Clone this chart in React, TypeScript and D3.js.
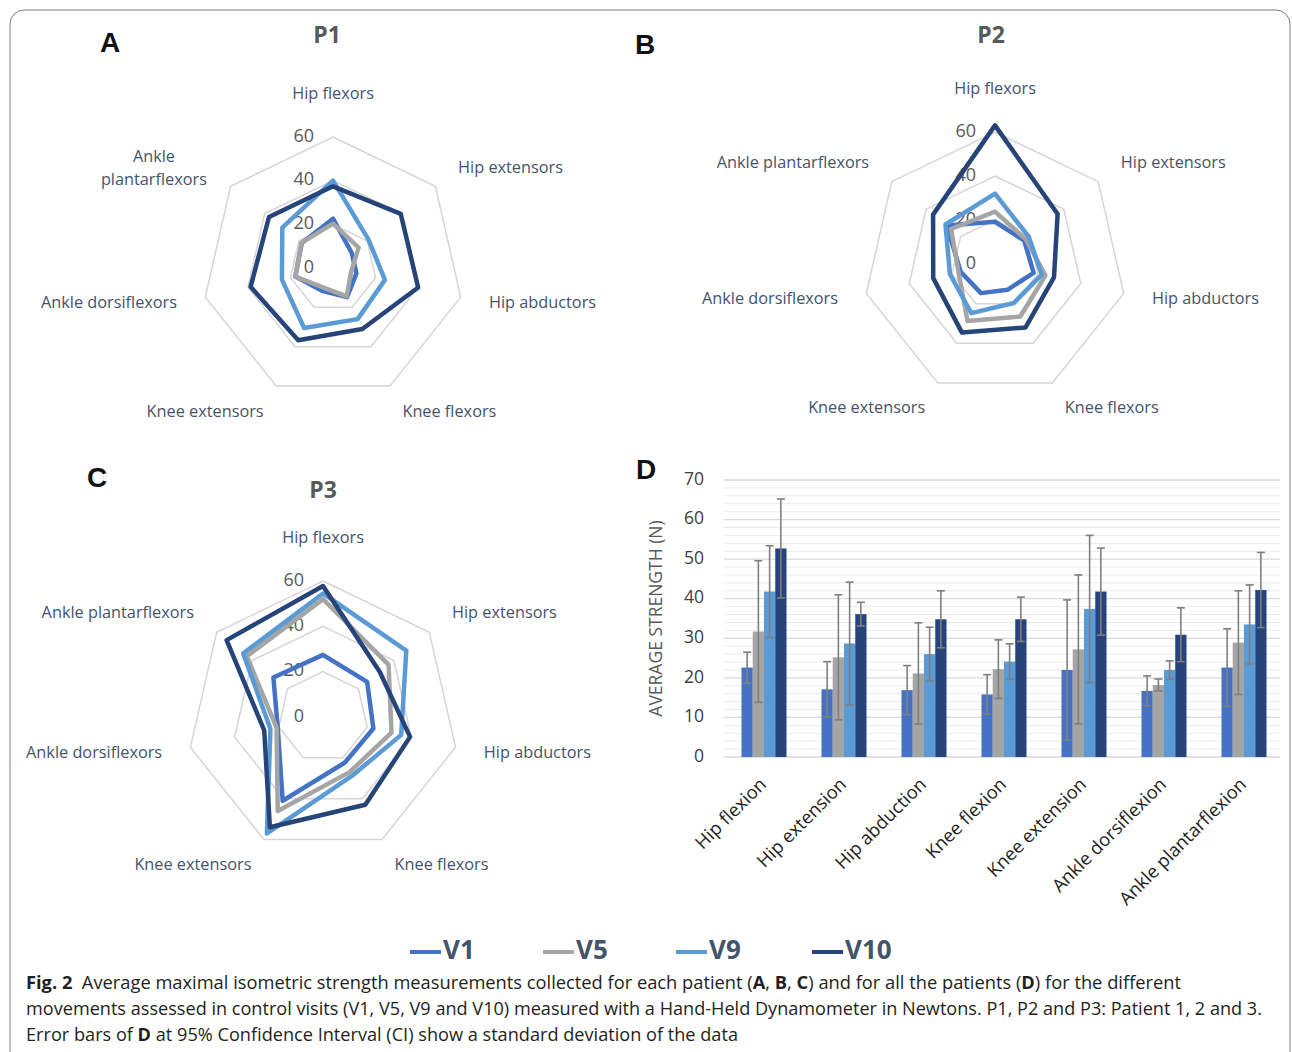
import React from "react";
import * as d3 from "d3";

const axes = ["Hip flexors", "Hip extensors", "Hip abductors", "Knee flexors", "Knee extensors", "Ankle dorsiflexors", "Ankle plantarflexors"];
const seriesNames = ["V1", "V5", "V9", "V10"];
const seriesColors = ["#4472C4", "#A5A5A5", "#5B9BD5", "#264478"];
const radarTicks = [0, 20, 40, 60];

// P1 values per series (order of axes)
const p1V1 = [22.6, 11, 11, 14.8, 11.6, 17.7, 18.3];
const p1V5 = [20.3, 15, 8.5, 14.4, 10, 17.7, 18.5];
const p1V9 = [40, 20.8, 24.4, 26, 30.5, 24, 29.7];
const p1V10 = [37.4, 39.7, 40, 31, 36.7, 38.7, 37.5];

const p2V1 = [19.2, 17, 18, 13, 14.7, 16, 28];
const p2V5 = [23.8, 18, 23.5, 26.5, 28.8, 17, 25.5];
const p2V9 = [32, 19.7, 21.8, 19.7, 24.8, 21, 28.8];
const p2V10 = [63, 36.4, 27.5, 32, 34.6, 28.8, 36];

const p3V1 = [27.4, 24.9, 22.8, 22.3, 41, 20.5, 28];
const p3V5 = [52, 37, 31, 27, 46, 21, 43];
const p3V9 = [54.5, 47, 35.4, 29, 57, 23.8, 45];
const p3V10 = [57.8, 32, 39.4, 43, 54, 26.6, 54.4];

// Panel D
const movements = ["Hip flexion", "Hip extension", "Hip abduction", "Knee flexion", "Knee extension", "Ankle dorsiflexion", "Ankle plantarflexion"];
const meanV1 = [22.6, 17.1, 16.9, 15.8, 22.0, 16.7, 22.6];
const meanV5 = [31.7, 25.2, 21.1, 22.2, 27.2, 18.2, 28.9];
const meanV9 = [41.8, 28.7, 26.0, 24.1, 37.4, 22.0, 33.5];
const meanV10 = [52.7, 36.1, 34.8, 34.8, 41.8, 30.9, 42.2];
const sdV1 = [3.9, 7.0, 6.2, 5.0, 17.7, 3.8, 9.8];
const sdV5 = [17.9, 15.8, 12.8, 7.4, 18.8, 1.5, 13.1];
const sdV9 = [11.6, 15.5, 6.8, 4.5, 18.6, 2.3, 10.0];
const sdV10 = [12.5, 3.0, 7.2, 5.6, 11.0, 6.8, 9.5];
const barTicks = [0, 10, 20, 30, 40, 50, 60, 70];

const FONT = "'Open Sans', 'Noto Sans', sans-serif";
const SLATE = "#44546A";
const LABEL_FS = 16.3;

type RadarProps = {
  cx: number; cy: number; R: number; data: number[][];
  title: string; titleX: number; titleY: number;
  letter: string; letterX: number; letterY: number;
  wrapLast?: boolean;
};

function Radar({ cx, cy, R, data, title, titleX, titleY, letter, letterX, letterY, wrapLast }: RadarProps) {
  const r = d3.scaleLinear().domain([0, 60]).range([0, R]);
  const n = axes.length;
  const ang = (i: number) => (i * 2 * Math.PI) / n;
  const line = d3.lineRadial<number>()
    .angle((_, i) => ang(i))
    .radius((v) => r(v))
    .curve(d3.curveLinearClosed);
  return (
    <g>
      <text x={letterX} y={letterY} fontFamily="Arial, 'Liberation Sans', sans-serif" fontWeight="bold" fontSize={28} fill="#111" textAnchor="middle" dominantBaseline="middle">{letter}</text>
      <text x={titleX} y={titleY} fontFamily={FONT} fontWeight="bold" fontSize={23} fill="#595959" textAnchor="middle" dominantBaseline="middle">{title}</text>
      <g transform={`translate(${cx},${cy})`}>
        {radarTicks.filter((t) => t > 0).map((t) => (
          <path key={t} d={line(axes.map(() => t)) || ""} fill="none" stroke="#d6d6d6" strokeWidth={1.5} />
        ))}
        {radarTicks.map((t) => (
          <text key={"t" + t} x={-19} y={-r(t)} textAnchor="end" dominantBaseline="middle" fontFamily={FONT} fontSize={18} fill="#595959">{t}</text>
        ))}
        {data.map((vals, si) => (
          <path key={si} d={line(vals) || ""} fill="none" stroke={seriesColors[si]} strokeWidth={4.5} strokeLinejoin="round" />
        ))}
        {axes.map((a, i) => {
          const th = ang(i);
          const s = Math.sin(th), c = Math.cos(th);
          if (i === 0) {
            return <text key={a} x={0} y={-(R + 42)} textAnchor="middle" dominantBaseline="middle" fontFamily={FONT} fontSize={LABEL_FS} fill={SLATE}>{a}</text>;
          }
          const rr = R + 29;
          const x = s * rr, y = -c * rr;
          if (wrapLast && i === n - 1) {
            const parts = a.split(" ");
            return (
              <text key={a} x={x - 54} y={y} textAnchor="middle" fontFamily={FONT} fontSize={LABEL_FS} fill={SLATE}>
                <tspan x={x - 54} dy={-6}>{parts[0]}</tspan>
                <tspan x={x - 54} dy={23}>{parts[1]}</tspan>
              </text>
            );
          }
          return <text key={a} x={x} y={y} textAnchor={s > 0 ? "start" : "end"} dominantBaseline="middle" fontFamily={FONT} fontSize={LABEL_FS} fill={SLATE}>{a}</text>;
        })}
      </g>
    </g>
  );
}

function Bars() {
  const left = 724, right = 1284, top = 480, bottom = 757;
  const x = d3.scaleBand().domain(movements).range([left, right]);
  const groupW = 45;
  const xs = d3.scaleBand().domain(seriesNames).range([0, groupW]);
  const y = d3.scaleLinear().domain([0, 70]).range([bottom, top]);
  const means = [meanV1, meanV5, meanV9, meanV10];
  const sds = [sdV1, sdV5, sdV9, sdV10];
  const minor = d3.range(0, 71, 2).filter((v) => v % 10 !== 0);
  return (
    <g>
      <text x={646} y={472} fontFamily="Arial, 'Liberation Sans', sans-serif" fontWeight="bold" fontSize={28} fill="#111" textAnchor="middle" dominantBaseline="middle">D</text>
      {minor.map((v) => (
        <line key={"m" + v} x1={left} x2={right - 4} y1={y(v)} y2={y(v)} stroke="#ebebeb" strokeWidth={1} />
      ))}
      {barTicks.map((v) => (
        <line key={"g" + v} x1={left} x2={right - 4} y1={y(v)} y2={y(v)} stroke="#d9d9d9" strokeWidth={1.3} />
      ))}
      {barTicks.map((v) => (
        <text key={"l" + v} x={704} y={y(v)} textAnchor="end" dominantBaseline="middle" fontFamily={FONT} fontSize={17.5} fill="#404040">{v}</text>
      ))}
      <text transform={`translate(657,${(top + bottom) / 2}) rotate(-90)`} textAnchor="middle" dominantBaseline="middle" fontFamily={FONT} fontSize={17.5} fill="#595959">AVERAGE STRENGTH (N)</text>
      {movements.map((m, ci) => {
        const g0 = (x(m) as number) + x.bandwidth() / 2 - groupW / 2;
        return (
          <g key={m}>
            {seriesNames.map((s, si) => {
              const bx = g0 + (xs(s) as number);
              const v = means[si][ci];
              return <rect key={s} x={bx} y={y(v)} width={xs.bandwidth()} height={bottom - y(v)} fill={seriesColors[si]} />;
            })}
            {seriesNames.map((s, si) => {
              const ex = g0 + (xs(s) as number) + xs.bandwidth() / 2;
              const v = means[si][ci], e = sds[si][ci];
              return (
                <g key={"e" + s} stroke="#7f7f7f" strokeWidth={1.6}>
                  <line x1={ex} x2={ex} y1={y(v + e)} y2={y(v - e)} />
                  <line x1={ex - 4} x2={ex + 4} y1={y(v + e)} y2={y(v + e)} />
                  <line x1={ex - 4} x2={ex + 4} y1={y(v - e)} y2={y(v - e)} />
                </g>
              );
            })}
          </g>
        );
      })}
      {movements.map((m) => {
        const cxm = (x(m) as number) + x.bandwidth() / 2;
        return (
          <text key={"c" + m} transform={`translate(${cxm},${bottom + 25}) rotate(-45)`} textAnchor="end" dominantBaseline="middle" fontFamily={FONT} fontSize={18.3} fill="#222">{m}</text>
        );
      })}
    </g>
  );
}

function Legend() {
  const items = [
    { x: 410 }, { x: 543 }, { x: 676 }, { x: 812 },
  ];
  return (
    <g>
      {seriesNames.map((s, i) => (
        <g key={s}>
          <line x1={items[i].x} x2={items[i].x + 31} y1={952} y2={952} stroke={seriesColors[i]} strokeWidth={4} />
          <text x={items[i].x + 33} y={952} dominantBaseline="middle" fontFamily={FONT} fontWeight="bold" fontSize={26} fill={SLATE}>{s}</text>
        </g>
      ))}
    </g>
  );
}

function Caption() {
  const cf = FONT;
  return (
    <g fontFamily={cf} fontSize={18} fill="#231f20">
      <text x={26} y={989} textLength={1155} lengthAdjust="spacingAndGlyphs">
        <tspan fontWeight="bold">Fig. 2</tspan>
        <tspan>{"\u00a0\u00a0Average maximal isometric strength measurements collected for each patient ("}</tspan>
        <tspan fontWeight="bold">A</tspan><tspan>, </tspan>
        <tspan fontWeight="bold">B</tspan><tspan>, </tspan>
        <tspan fontWeight="bold">C</tspan>
        <tspan>) and for all the patients (</tspan>
        <tspan fontWeight="bold">D</tspan>
        <tspan>) for the different</tspan>
      </text>
      <text x={26} y={1015} textLength={1236} lengthAdjust="spacingAndGlyphs">movements assessed in control visits (V1, V5, V9 and V10) measured with a Hand-Held Dynamometer in Newtons. P1, P2 and P3: Patient 1, 2 and 3.</text>
      <text x={26} y={1041} textLength={712} lengthAdjust="spacingAndGlyphs">
        <tspan>Error bars of </tspan>
        <tspan fontWeight="bold">D</tspan>
        <tspan> at 95% Confidence Interval (CI) show a standard deviation of the data</tspan>
      </text>
    </g>
  );
}

export default function App() {
  return (
    <svg width={1292} height={1052} style={{ position: "absolute", left: 0, top: 0, background: "#fff" }}>
      <rect x={0} y={0} width={1292} height={1052} fill="#fff" />
      <rect x={10} y={10} width={1280} height={1060} rx={14} fill="none" stroke="#7a7a7a" strokeWidth={1} />
      <Radar cx={333} cy={268} R={131} data={[p1V1, p1V5, p1V9, p1V10]} title="P1" titleX={327} titleY={37} letter="A" letterX={110} letterY={45} wrapLast />
      <Radar cx={995} cy={264} R={132} data={[p2V1, p2V5, p2V9, p2V10]} title="P2" titleX={991} titleY={37} letter="B" letterX={645} letterY={47} />
      <Radar cx={323} cy={717} R={136} data={[p3V1, p3V5, p3V9, p3V10]} title="P3" titleX={323} titleY={492} letter="C" letterX={97} letterY={480} />
      <Bars />
      <Legend />
      <Caption />
    </svg>
  );
}
